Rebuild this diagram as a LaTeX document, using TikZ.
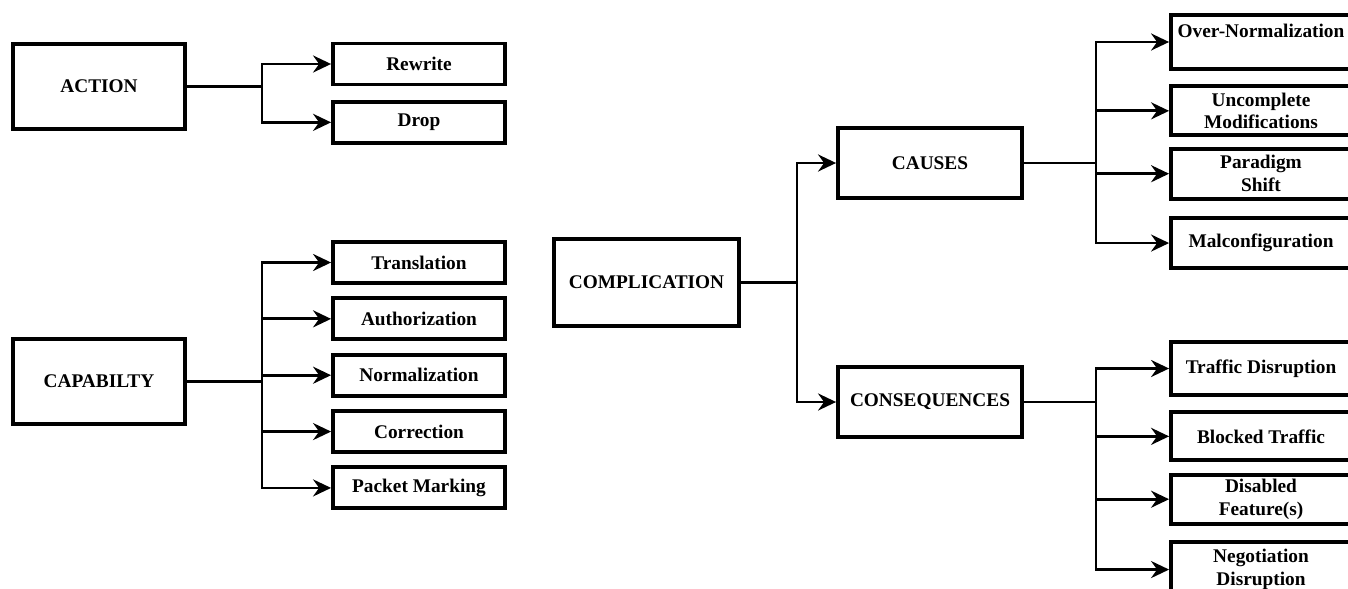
\documentclass[tikz,border=0pt]{standalone}
\usepackage{fontspec}
\setmainfont{Liberation Serif}
\usetikzlibrary{arrows.meta,positioning}

\begin{document}
\begin{tikzpicture}[
    x = 0.02cm, y = -0.02cm, % one unit per pixel
    > = {Stealth[length=0.36cm,width=0.34cm,inset=0.12cm]}, % arrow head style
    line width = 1.6pt, % line style
    font = \fontsize{11}{13}\selectfont\bfseries
    ]

    \tikzset{
    box/.style = {draw = black, line width = 2.2pt, fill = white, align = center, inner sep = 1pt},
    rootbox/.style = {box, minimum width = 3.44cm, minimum height = 1.7cm},
    midbox/.style = {box, minimum width = 3.68cm, minimum height = 1.4cm},
    leafbox/.style = {box, minimum width = 3.44cm, minimum height = 0.82cm},
    endbox/.style = {box, minimum width = 3.6cm, minimum height = #1}
    }
    \clip (0,0) rectangle (1348,588);

    % action
    \node[rootbox] (action) at (99,86.5) {ACTION};
    \node[leafbox] (rewrite) at (419,64) {Rewrite};
    \node[leafbox] (drop) [below=0.27cm of rewrite] {Drop};

    % capability
    \node[rootbox] (capab) at (99,381.5) {CAPABILTY};
    \node[leafbox] (transl) at (419,262.5) {Translation};
    \node[leafbox] (author) [below=0.23cm of transl] {Authorization};
    \node[leafbox] (normal) [below=0.23cm of author] {Normalization};
    \node[leafbox] (correct) [below=0.23cm of normal] {Correction};
    \node[leafbox] (marking) [below=0.23cm of correct] {Packet Marking};

    % complication
    \node[rootbox, minimum width = 3.7cm, minimum height = 1.74cm] (compl) at (646.5,282.5) {COMPLICATION};
    \node[midbox] (causes) at (930,163) {CAUSES};
    \node[midbox] (conseq) at (930,402) {CONSEQUENCES};

    \node[endbox=1.08cm] (overnorm) at (1261,42) {Over-Normalization\\\phantom{X}};
    \node[endbox=0.98cm] (uncompl) [below=0.27cm of overnorm] {Uncomplete\\Modifications};
    \node[endbox=1cm] (paradigm) [below=0.19cm of uncompl] {Paradigm\\Shift};
    \node[endbox=1cm] (malconf) [below=0.31cm of paradigm] {Malconfiguration};

    \node[endbox=1.06cm] (traffic) at (1261,368.5) {Traffic Disruption};
    \node[endbox=0.96cm] (blocked) [below=0.27cm of traffic] {Blocked Traffic};
    \node[endbox=0.98cm] (disabled) [below=0.21cm of blocked] {Disabled\\Feature(s)};
    \node[endbox=1.1cm] (negot) [below=0.29cm of disabled] {Negotiation\\Disruption};

    % trunks
    \coordinate (tleft) at (262,0);
    \coordinate (tmid) at (797,0);
    \coordinate (tright) at (1096,0);

    \foreach \n in {rewrite,drop}
      \draw[->] (action.east) -- (tleft |- action.east) |- (\n.west);
    \foreach \n in {transl,author,normal,correct,marking}
      \draw[->] (capab.east) -- (tleft |- capab.east) |- (\n.west);
    \foreach \n in {causes,conseq}
      \draw[->] (compl.east) -- (tmid |- compl.east) |- (\n.west);
    \foreach \n in {overnorm,uncompl,paradigm,malconf}
      \draw[->] (causes.east) -- (tright |- causes.east) |- (\n.west);
    \foreach \n in {traffic,blocked,disabled,negot}
      \draw[->] (conseq.east) -- (tright |- conseq.east) |- (\n.west);
\end{tikzpicture}
\end{document}
